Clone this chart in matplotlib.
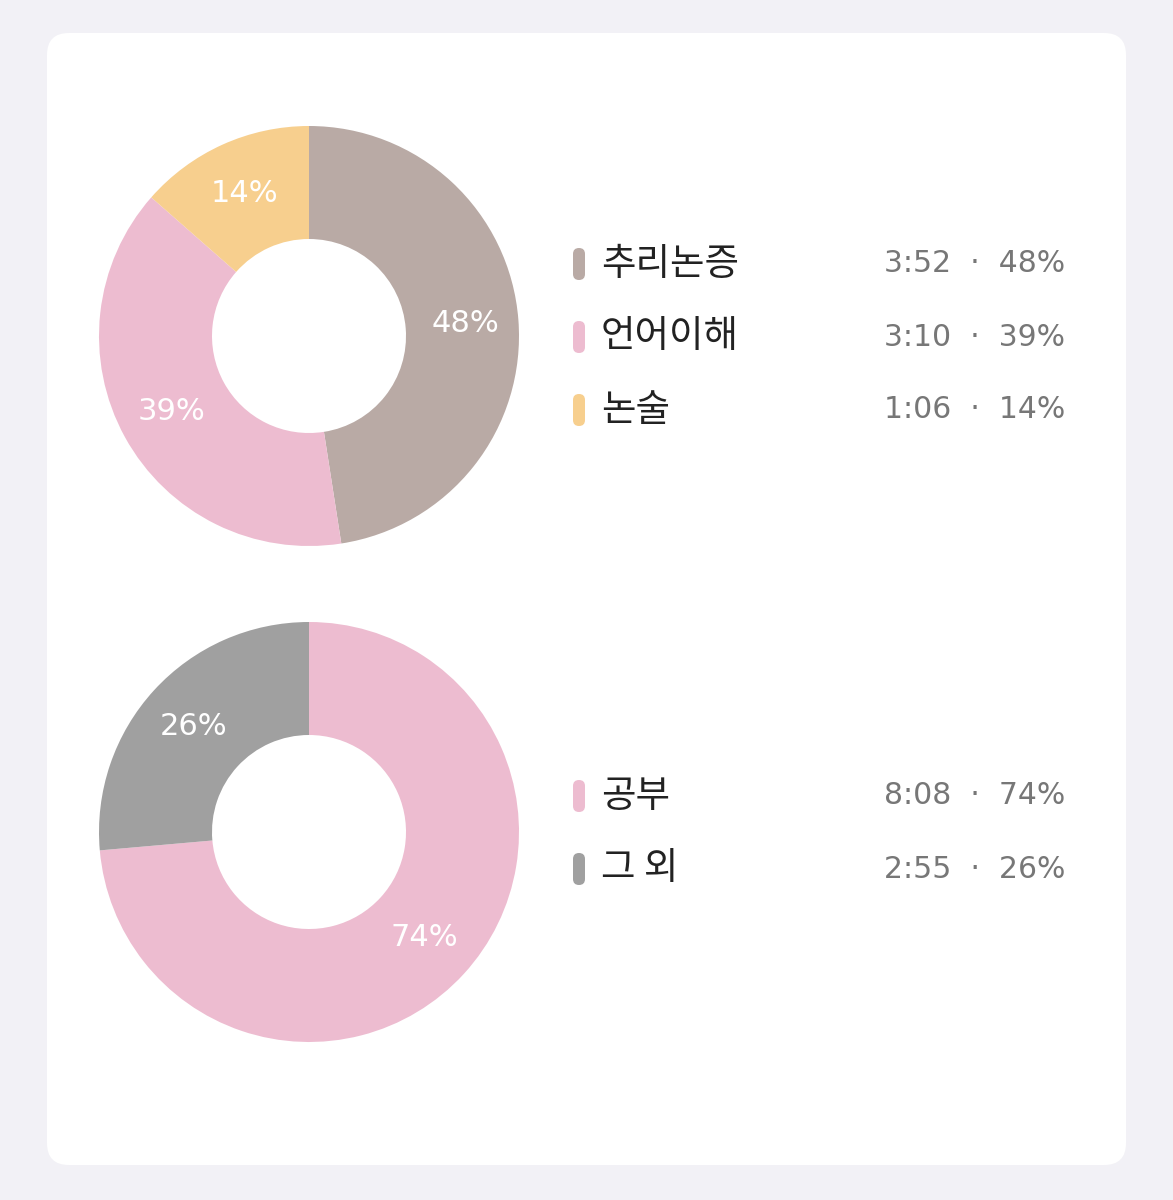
import matplotlib
matplotlib.use("Agg")
import matplotlib.pyplot as plt
from matplotlib.patches import FancyBboxPatch
import numpy as np

plt.rcParams['font.family'] = ['Noto Sans CJK KR', 'DejaVu Sans']

cats1 = ["추리논증", "언어이해", "논술"]
times1 = ["3:52", "3:10", "1:06"]
mins1 = [232, 190, 66]
colors1 = ["#b9aaa5", "#edbcd0", "#f7cf8e"]

cats2 = ["공부", "그 외"]
times2 = ["8:08", "2:55"]
mins2 = [488, 175]
colors2 = ["#edbcd0", "#a0a0a0"]

W, H = 1173, 1200
fig = plt.figure(figsize=(W/100, H/100), dpi=100)
fig.patch.set_facecolor("#f2f1f6")
bg = fig.add_axes([0, 0, 1, 1])
bg.set_xlim(0, W); bg.set_ylim(H, 0); bg.axis("off")
bg.add_patch(FancyBboxPatch((47, 33), 1079, 1132, boxstyle="round,pad=0,rounding_size=22",
                            fc="white", ec="none"))

NUMFONT = ["DejaVu Sans"]

def donut(cx, cy, r, vals, cols, cats, times, legend_y):
    ax = fig.add_axes([(cx-r)/W, (H-cy-r)/H, 2*r/W, 2*r/H])
    total = sum(vals)
    pcts = [round(v*100/total) for v in vals]
    wedges, _ = ax.pie(vals, colors=cols, startangle=90, counterclock=False, radius=1,
                       wedgeprops=dict(width=1-97/210, edgecolor="none"))
    for w, p in zip(wedges, pcts):
        a = np.deg2rad((w.theta1 + w.theta2)/2)
        rr = 0.745
        ax.text(rr*np.cos(a), rr*np.sin(a), f"{p}%", color="white", fontsize=22,
                family=NUMFONT, ha="center", va="center")
    ax.set_xlim(-1, 1); ax.set_ylim(-1, 1); ax.set_aspect("equal"); ax.axis("off")
    for i, (c, t, col, p) in enumerate(zip(cats, times, cols, pcts)):
        y = legend_y + i*73
        bg.add_patch(FancyBboxPatch((573, y-16), 12, 32, boxstyle="round,pad=0,rounding_size=6",
                                    fc=col, ec="none"))
        bg.text(601, y, c, fontsize=27, color="#222222", va="center", ha="left")
        bg.text(1065, y, f"{t}  ·  {p}%", fontsize=21.5, family=NUMFONT, color="#777777",
                va="center", ha="right")

donut(309, 336, 210, mins1, colors1, cats1, times1, 264)
donut(309, 832, 210, mins2, colors2, cats2, times2, 796)

fig.savefig("out.png", dpi=100, facecolor=fig.get_facecolor())
